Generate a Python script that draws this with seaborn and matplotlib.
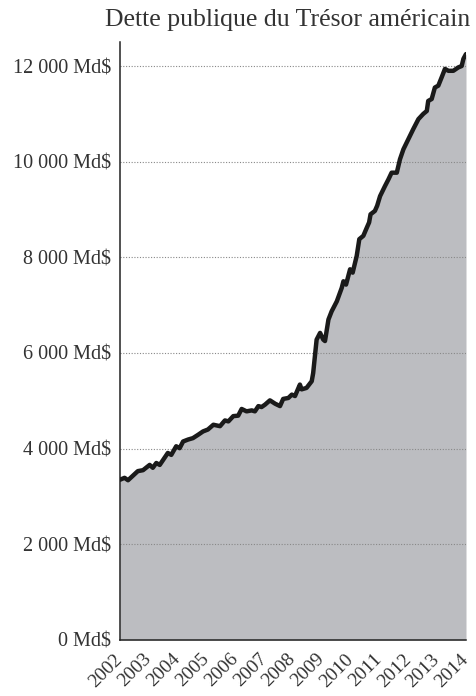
import seaborn as sns
import matplotlib.pyplot as plt
import pandas as pd

# dette publique (Md$)
annees = [2002.0, 2002.16, 2002.28, 2002.62, 2002.80, 2003.03, 2003.14, 2003.26, 2003.38,
          2003.66, 2003.78, 2003.95, 2004.07, 2004.19, 2004.36, 2004.53, 2004.71, 2004.88,
          2005.05, 2005.24, 2005.47, 2005.64, 2005.76, 2005.93, 2006.10, 2006.22, 2006.39,
          2006.57, 2006.68, 2006.80, 2006.91, 2007.03, 2007.20, 2007.38, 2007.55, 2007.66,
          2007.84, 2007.96, 2008.07, 2008.24, 2008.30, 2008.47, 2008.65, 2008.70, 2008.82,
          2008.94, 2009.05, 2009.11, 2009.23, 2009.34, 2009.52, 2009.69, 2009.75, 2009.84,
          2009.98, 2010.07, 2010.21, 2010.30, 2010.44, 2010.56, 2010.64, 2010.69, 2010.84,
          2010.92, 2011.02, 2011.19, 2011.31, 2011.42, 2011.60, 2011.71, 2011.83, 2012.00,
          2012.17, 2012.35, 2012.52, 2012.64, 2012.69, 2012.81, 2012.92, 2013.04, 2013.16,
          2013.27, 2013.39, 2013.56, 2013.73, 2013.85, 2013.91, 2014.0]
dette = [3350, 3390, 3340, 3530, 3550, 3660, 3600, 3700, 3660,
         3910, 3870, 4050, 4010, 4150, 4190, 4220, 4290, 4360,
         4400, 4500, 4470, 4590, 4570, 4680, 4690, 4830, 4780,
         4800, 4780, 4890, 4870, 4920, 5010, 4940, 4890, 5040,
         5060, 5130, 5100, 5340, 5240, 5270, 5410, 5580, 6280,
         6420, 6280, 6250, 6700, 6870, 7080, 7360, 7500, 7430,
         7750, 7680, 8030, 8380, 8450, 8620, 8730, 8900, 8970,
         9080, 9280, 9490, 9630, 9770, 9770, 10050, 10260, 10470,
         10680, 10890, 11000, 11060, 11270, 11310, 11550, 11590, 11770,
         11940, 11900, 11900, 11970, 12000, 12150, 12250]
graduations_y = [0, 2000, 4000, 6000, 8000, 10000, 12000]
annees_ticks = list(range(2002, 2015))

df = pd.DataFrame({"annee": annees, "dette": dette})

sns.set_style("white")
plt.rcParams["font.family"] = ["Liberation Serif", "DejaVu Serif"]

fig = plt.figure(figsize=(4.76, 6.96), dpi=100)
ax = fig.add_axes([0.252, 0.0805, 0.727, 0.859])

ax.fill_between(df["annee"], df["dette"], color="#bcbdc1", lw=0, zorder=1)
sns.lineplot(data=df, x="annee", y="dette", ax=ax, color="#1a1a1a", lw=3.2, zorder=3)

ax.set_xlim(2002, 2014)
ax.set_ylim(0, 12500)
ax.set_yticks(graduations_y)
ax.set_yticklabels([f"{v:,}".replace(",", " ") + " Md$" for v in graduations_y],
                   fontsize=14.5, color="#333333")
ax.set_xticks(annees_ticks)
ax.set_xticklabels([str(a) for a in annees_ticks], rotation=45, ha="right", va="center",
                   rotation_mode="anchor", fontsize=14, color="#333333")
for v in graduations_y[1:]:
    ax.axhline(v, color="#888888", lw=0.8, ls=(0, (1, 1.5)), zorder=2)

for s in ["top", "right"]:
    ax.spines[s].set_visible(False)
for s in ["left", "bottom"]:
    ax.spines[s].set_color("#222222")
    ax.spines[s].set_linewidth(1.1)
ax.tick_params(axis="y", direction="inout", length=11, width=1.1, color="#222222", pad=1)
ax.tick_params(axis="x", direction="out", length=6, width=1.1, color="#222222", pad=6)
ax.set_xlabel("")
ax.set_ylabel("")

fig.text(0.988, 0.971, "Dette publique du Trésor américain", ha="right", va="center",
         fontsize=18.5, color="#333333")

fig.savefig("out.png", dpi=100)
